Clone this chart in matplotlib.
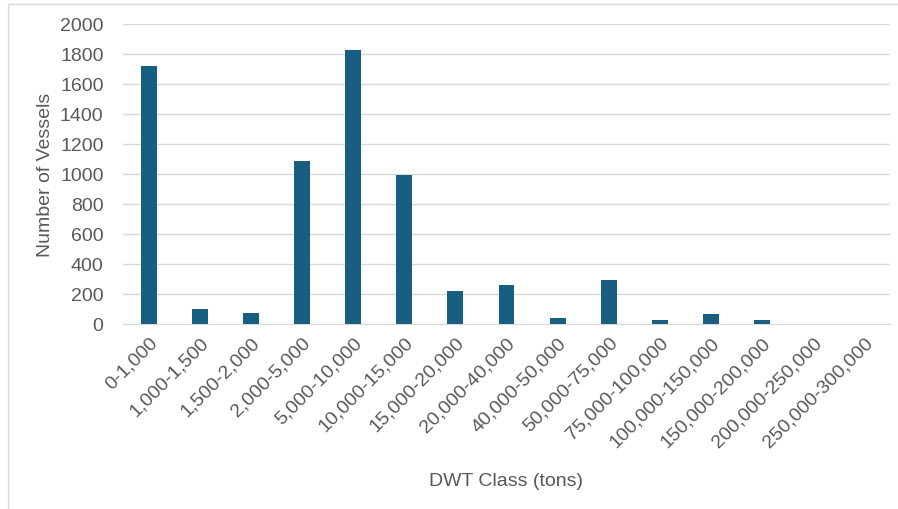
import numpy as np
import matplotlib.pyplot as plt
from matplotlib.patches import Rectangle

plt.rcParams['font.family'] = ['Liberation Sans', 'DejaVu Sans']

classes = ['0-1,000', '1,000-1,500', '1,500-2,000', '2,000-5,000', '5,000-10,000',
           '10,000-15,000', '15,000-20,000', '20,000-40,000', '40,000-50,000',
           '50,000-75,000', '75,000-100,000', '100,000-150,000', '150,000-200,000',
           '200,000-250,000', '250,000-300,000']
vessels = [1720, 100, 73, 1087, 1827, 993, 220, 260, 40, 293, 27, 67, 27, 0, 0]

fig = plt.figure(figsize=(8.98, 5.10), dpi=100)
ax = fig.add_axes([0.137, 0.363, 0.854, 0.588])

# chart frame like the spreadsheet chart border
fig.patches.append(Rectangle((8/898, -0.05), 1.0, 1 - 5/510 + 0.05, transform=fig.transFigure,
                             fill=False, edgecolor='#D9D9D9', linewidth=1))

x = np.arange(len(classes))
ax.bar(x, vessels, width=0.31, color='#175E81', zorder=3)

ax.set_xlim(-0.5, len(classes) - 0.5)
ax.set_ylim(0, 2000)
ax.set_yticks(np.arange(0, 2001, 200))
ax.yaxis.grid(True, color='#D9D9D9', linewidth=1, zorder=0)
for s in ['top', 'right', 'left']:
    ax.spines[s].set_visible(False)
ax.spines['bottom'].set_color('#D9D9D9')
ax.tick_params(length=0, colors='#595959', labelsize=14)
ax.tick_params(axis='y', pad=14)
ax.tick_params(axis='x', pad=7)

ax.set_xticks(x)
ax.set_xticklabels(classes, rotation=45, ha='right', rotation_mode='anchor')
ax.set_ylabel('Number of Vessels', fontsize=14, color='#595959', labelpad=4)
ax.set_xlabel('DWT Class (tons)', fontsize=14, color='#595959', labelpad=16)

fig.savefig('out.png', dpi=100)
